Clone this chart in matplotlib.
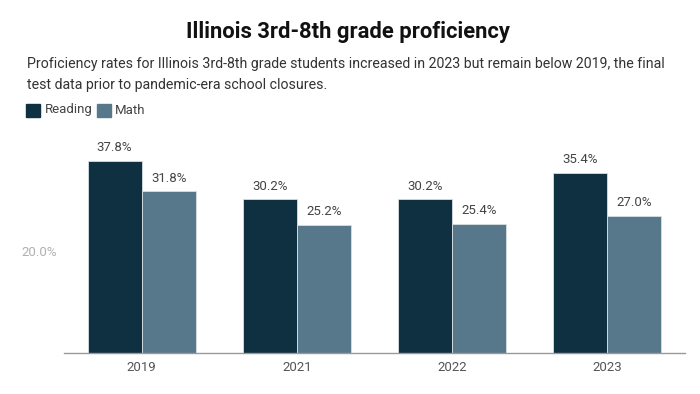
import matplotlib
matplotlib.use('Agg')
import matplotlib.pyplot as plt
import numpy as np
from matplotlib.patches import Rectangle

plt.rcParams['font.family'] = ['Roboto', 'DejaVu Sans']

years = ['2019', '2021', '2022', '2023']
reading = [37.8, 30.2, 30.2, 35.4]
math = [31.8, 25.2, 25.4, 27.0]

reading_color = '#0e3040'
math_color = '#57788a'

fig = plt.figure(figsize=(7, 3.94), dpi=100)
ax = fig.add_axes([64/700, 41/394, 621/700, 203.5/394])

x = np.arange(len(years))
w = 0.348
bars_r = ax.bar(x - w/2, reading, w, color=reading_color, edgecolor='#d8e0e4', linewidth=0.6)
bars_m = ax.bar(x + w/2, math, w, color=math_color, edgecolor='#d8e0e4', linewidth=0.6)

for bars in (bars_r, bars_m):
    for b in bars:
        ax.text(b.get_x() + b.get_width()/2, b.get_height() + 1.3, '{:.1f}%'.format(b.get_height()),
                ha='center', va='bottom', fontsize=9.5, color='#444444')

ax.set_xlim(-0.5, 3.5)
ax.set_ylim(0, 40)
ax.set_xticks(x)
ax.set_xticklabels(years, fontsize=9.5, color='#555555')
ax.set_yticks([20])
ax.set_yticklabels(['20.0%'], fontsize=9.5, color='#b0b0b0')
ax.tick_params(axis='x', length=0, pad=6)
ax.tick_params(axis='y', length=0, pad=5)

for side in ['top', 'left', 'right']:
    ax.spines[side].set_visible(False)
ax.spines['bottom'].set_color('#999999')
ax.spines['bottom'].set_linewidth(1)

fig.text(0.497, 1 - 32/394, 'Illinois 3rd-8th grade proficiency', ha='center', va='center',
         fontsize=15.8, fontweight='bold', color='#111111')
fig.text(27/700, 1 - 64/394, 'Proficiency rates for Illinois 3rd-8th grade students increased in 2023 but remain below 2019, the final',
         ha='left', va='center', fontsize=10.2, color='#333333')
fig.text(27/700, 1 - 85/394, 'test data prior to pandemic-era school closures.',
         ha='left', va='center', fontsize=10.2, color='#333333')

# legend
fig.patches.append(Rectangle((26/700, 1 - 117/394), 14/700, 13/394, transform=fig.transFigure,
                             color=reading_color))
fig.text(45/700, 1 - 110/394, 'Reading', ha='left', va='center', fontsize=9.5, color='#444444')
fig.patches.append(Rectangle((97/700, 1 - 117/394), 14/700, 13/394, transform=fig.transFigure,
                             color=math_color))
fig.text(115/700, 1 - 110/394, 'Math', ha='left', va='center', fontsize=9.5, color='#444444')

plt.savefig('out.png', dpi=100)
